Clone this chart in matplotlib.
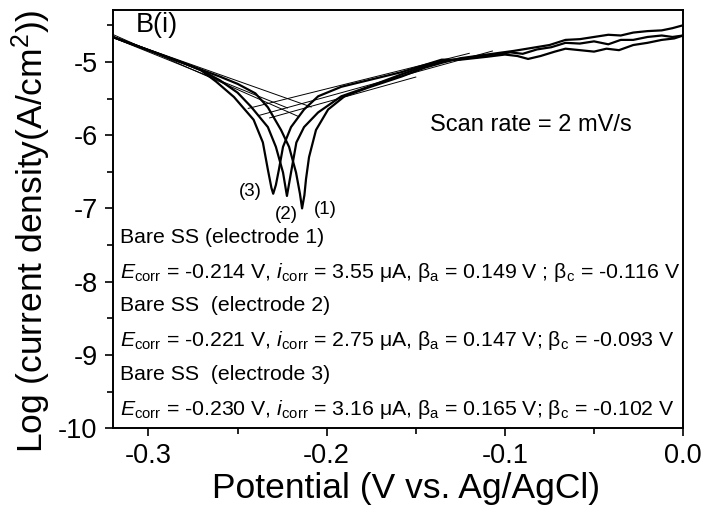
import matplotlib
matplotlib.use("Agg")
import matplotlib.pyplot as plt
from matplotlib.ticker import MultipleLocator, FormatStrFormatter
import numpy as np

plt.rcParams['font.family'] = ['Liberation Sans', 'DejaVu Sans']
plt.rcParams['mathtext.fontset'] = 'custom'
plt.rcParams['mathtext.rm'] = 'Liberation Sans'
plt.rcParams['mathtext.it'] = 'Liberation Sans:italic'
plt.rcParams['mathtext.bf'] = 'Liberation Sans:bold'
plt.rcParams['axes.unicode_minus'] = False

# ---- Polarisation curves (E in V vs Ag/AgCl, log current density) ----
E1 = [-0.32, -0.30, -0.28, -0.27, -0.26, -0.25, -0.24, -0.233, -0.2256, -0.2211, -0.2172,
      -0.2150, -0.2138, -0.2125, -0.2116, -0.2099, -0.2060, -0.1992, -0.190, -0.1766, -0.158,
      -0.145, -0.135,
      -0.125, -0.11, -0.095, -0.085, -0.075, -0.066, -0.058, -0.05, -0.042, -0.035, -0.028,
      -0.02, -0.012, -0.006, 0.0]
L1 = [-4.66, -4.84, -5.02, -5.11, -5.20, -5.30, -5.43, -5.62, -5.93, -6.16, -6.51,
      -6.80, -7.00, -6.82, -6.60, -6.30, -5.93, -5.65, -5.47, -5.35, -5.20,
      -5.08, -5.01,
      -4.95, -4.90, -4.85, -4.81, -4.77, -4.70, -4.69, -4.66, -4.63, -4.64, -4.60,
      -4.58, -4.57, -4.54, -4.50]

E2 = [-0.32, -0.30, -0.28, -0.27, -0.26, -0.25, -0.2425, -0.233, -0.2285, -0.2245, -0.2223,
      -0.2200, -0.2170, -0.2127, -0.2048, -0.1918, -0.1766, -0.158, -0.145, -0.135,
      -0.125, -0.11, -0.097, -0.09, -0.082, -0.074, -0.066, -0.058, -0.05, -0.042, -0.035,
      -0.028, -0.02, -0.012, -0.006, 0.0]
L2 = [-4.66, -4.84, -5.02, -5.12, -5.25, -5.42, -5.61, -5.89, -6.16, -6.51, -6.83,
      -6.51, -6.10, -5.89, -5.69, -5.47, -5.34, -5.17, -5.06, -4.99,
      -4.96, -4.92, -4.87, -4.89, -4.83, -4.80, -4.74, -4.75, -4.72, -4.76, -4.70,
      -4.70, -4.66, -4.64, -4.66, -4.64]

E3 = [-0.32, -0.30, -0.28, -0.2707, -0.262, -0.252, -0.241, -0.2358, -0.233, -0.2310, -0.2300,
      -0.2285, -0.2268, -0.2245, -0.2200, -0.2127, -0.2048, -0.1918, -0.1766, -0.158, -0.1355,
      -0.125, -0.11, -0.10, -0.093, -0.087, -0.08, -0.072, -0.066, -0.058, -0.05, -0.043,
      -0.036, -0.028, -0.02, -0.012, -0.005, 0.0]
L3 = [-4.66, -4.84, -5.02, -5.11, -5.27, -5.48, -5.79, -6.10, -6.47, -6.72, -6.80,
      -6.68, -6.47, -6.16, -5.89, -5.65, -5.47, -5.34, -5.25, -5.14, -4.97,
      -4.97, -4.93, -4.90, -4.92, -4.96, -4.92, -4.86, -4.82, -4.84, -4.86, -4.82,
      -4.84, -4.77, -4.74, -4.70, -4.68, -4.64]

# ---- Tafel fit parameters ----
Ecorr = [-0.214, -0.221, -0.230]
beta_a = [0.149, 0.147, 0.165]
beta_c = [-0.116, -0.093, -0.102]
logi0 = [-5.57, -5.69, -5.55]          # Tafel-line value at Ecorr
cath_range = [(-0.32, -0.2087), (-0.32, -0.216), (-0.32, -0.222)]
anod_range = [(-0.238, -0.107), (-0.232, -0.150), (-0.244, -0.120)]

labels = ["(1)", "(2)", "(3)"]
label_pos = [(-0.2010, -7.02), (-0.2228, -7.09), (-0.2430, -6.77)]

info_lines = [
    "Bare SS (electrode 1)",
    r"$\mathit{E}_{\mathrm{corr}}$ = -0.214 V, $\mathit{i}_{\mathrm{corr}}$ = 3.55 $\mathrm{\mu}$A, β$_{\mathrm{a}}$ = 0.149 V ; β$_{\mathrm{c}}$ = -0.116 V",
    "Bare SS  (electrode 2)",
    r"$\mathit{E}_{\mathrm{corr}}$ = -0.221 V, $\mathit{i}_{\mathrm{corr}}$ = 2.75 $\mathrm{\mu}$A, β$_{\mathrm{a}}$ = 0.147 V; β$_{\mathrm{c}}$ = -0.093 V",
    "Bare SS  (electrode 3)",
    r"$\mathit{E}_{\mathrm{corr}}$ = -0.230 V, $\mathit{i}_{\mathrm{corr}}$ = 3.16 $\mathrm{\mu}$A, β$_{\mathrm{a}}$ = 0.165 V; β$_{\mathrm{c}}$ = -0.102 V",
]
info_y = [-7.40, -7.87, -8.33, -8.81, -9.27, -9.75]

fig = plt.figure(figsize=(7.05, 5.19), dpi=100)
ax = fig.add_axes([0.160, 0.175, 0.809, 0.806])

for E, L in ((E1, L1), (E2, L2), (E3, L3)):
    ax.plot(E, L, color='black', lw=1.6, solid_joinstyle='round')

for k in range(3):
    ec = np.array(cath_range[k])
    ax.plot(ec, logi0[k] + (ec - Ecorr[k]) / beta_c[k], color='black', lw=0.7)
    ea = np.array(anod_range[k])
    ax.plot(ea, logi0[k] + (ea - Ecorr[k]) / beta_a[k], color='black', lw=0.7)

for lab, (x, y) in zip(labels, label_pos):
    ax.text(x, y, lab, fontsize=13.5, ha='center', va='center')

for s, y in zip(info_lines, info_y):
    ax.text(-0.3158, y, s, fontsize=15.3, ha='left', va='center')

ax.text(-0.3073, -4.50, "B(i)", fontsize=19.5, ha='left', va='center')
ax.text(-0.1423, -5.86, "Scan rate = 2 mV/s", fontsize=17, ha='left', va='center')

ax.set_xlim(-0.32, 0.0)
ax.set_ylim(-10, -4.29)
ax.xaxis.set_major_locator(MultipleLocator(0.1))
ax.xaxis.set_minor_locator(MultipleLocator(0.05))
ax.yaxis.set_major_locator(MultipleLocator(1))
ax.yaxis.set_minor_locator(MultipleLocator(0.5))
ax.xaxis.set_major_formatter(FormatStrFormatter('%.1f'))
ax.yaxis.set_major_formatter(FormatStrFormatter('%d'))
ax.tick_params(which='both', direction='out', top=False, right=False, width=1.2, labelsize=19.5)
ax.tick_params(which='major', length=6, pad=5)
ax.tick_params(which='minor', length=4)
for sp in ax.spines.values():
    sp.set_linewidth(1.4)

ax.set_xlabel("Potential (V vs. Ag/AgCl)", fontsize=25.5)
ax.set_ylabel(r"Log (current density(A/cm$^{2}$))", fontsize=25.5)
ax.xaxis.set_label_coords(0.515, -0.105)
ax.yaxis.set_label_coords(-0.105, 0.471)

fig.savefig("out.png", dpi=100)
